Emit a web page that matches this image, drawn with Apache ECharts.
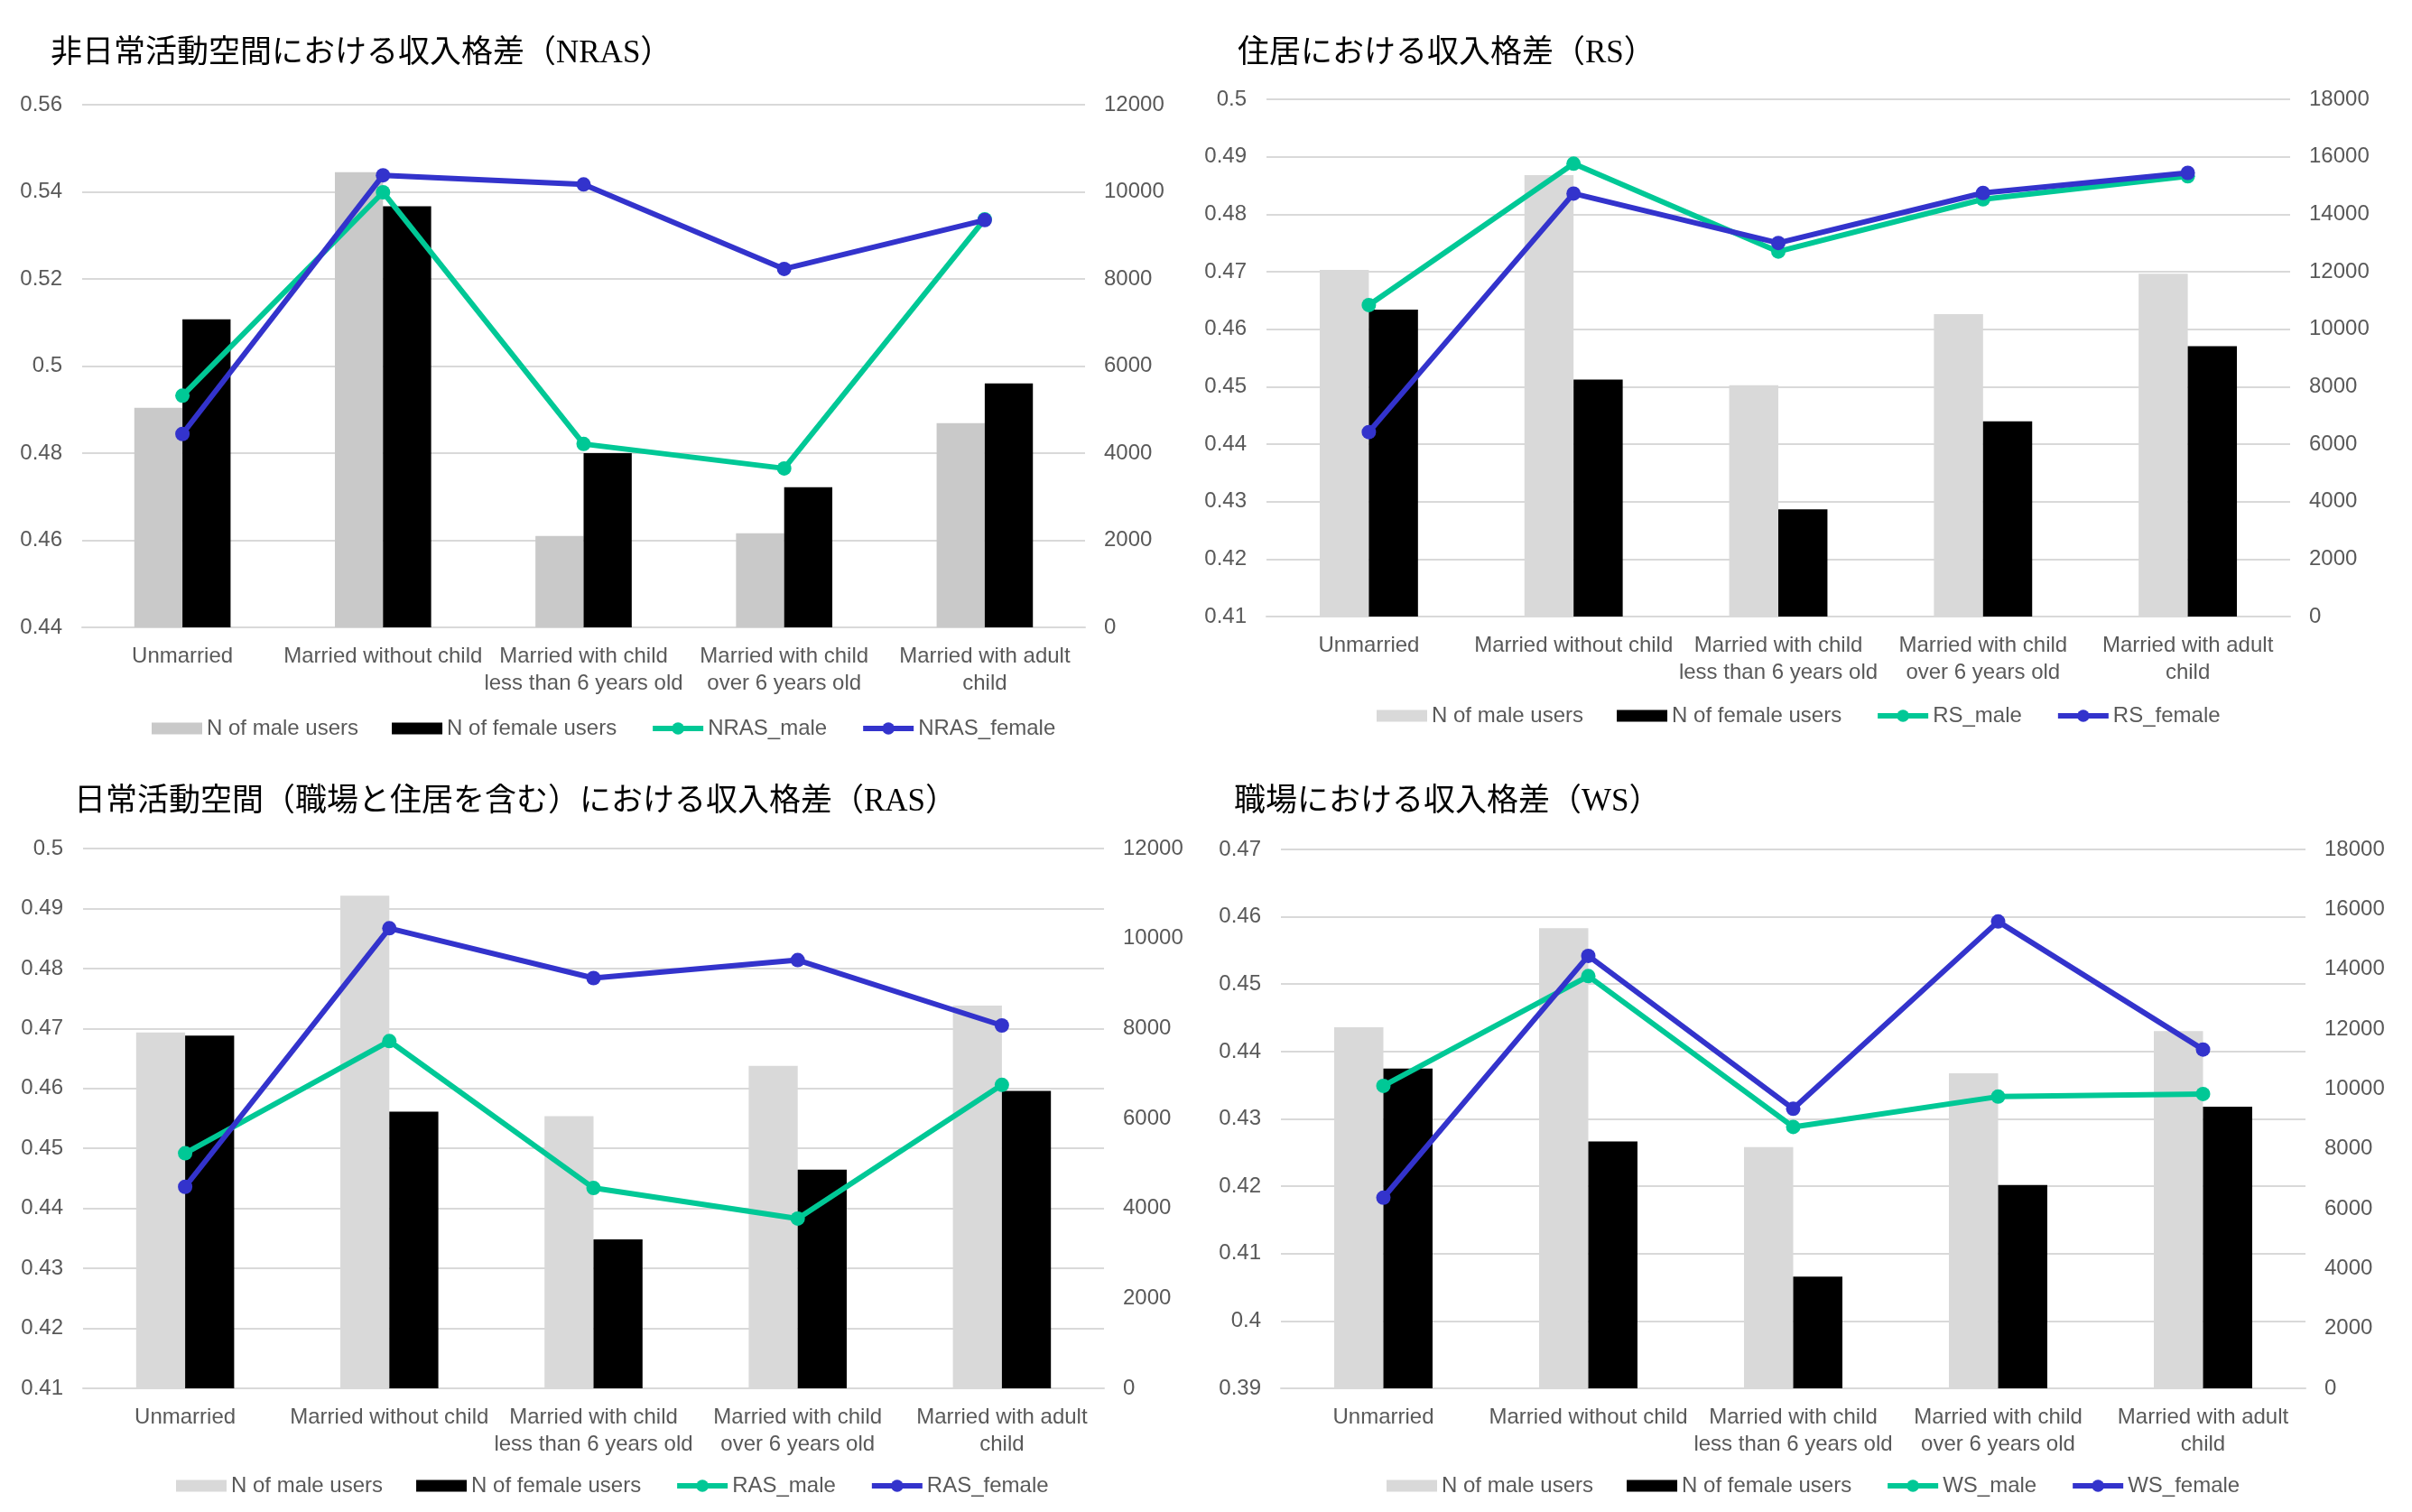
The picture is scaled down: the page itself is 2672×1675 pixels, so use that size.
<!DOCTYPE html>
<html>
<head>
<meta charset="utf-8">
<script src="https://cdn.jsdelivr.net/npm/echarts@6/dist/echarts.min.js"></script>
<style>
html,body{margin:0;padding:0;background:#ffffff;}
#c{width:2672px;height:1675px;}
</style>
</head>
<body>
<div id="c"></div>
<script>
// ---------- data ----------
const categories = [
  'Unmarried',
  'Married without child',
  'Married with child\nless than 6 years old',
  'Married with child\nover 6 years old',
  'Married with adult\nchild'
];
const legendBarNames = ['N of male users', 'N of female users'];

// NRAS panel
const nrasTitle = '非日常活動空間における収入格差（NRAS）';
const nrasMaleUsers   = [5040, 10450, 2100, 2160, 4690];
const nrasFemaleUsers = [7070, 9670, 4000, 3220, 5600];
const nrasMale        = [0.4932, 0.5399, 0.4821, 0.4765, 0.5337];
const nrasFemale      = [0.4844, 0.5438, 0.5417, 0.5223, 0.5335];
const nrasLeftTicks   = [0.44, 0.56, 0.02];
const nrasRightTicks  = [0, 12000, 2000];

// RS panel
const rsTitle = '住居における収入格差（RS）';
const rsMaleUsers   = [12060, 15360, 8050, 10520, 11930];
const rsFemaleUsers = [10680, 8250, 3730, 6790, 9410];
const rsMale        = [0.4642, 0.4888, 0.4735, 0.4826, 0.4866];
const rsFemale      = [0.4421, 0.4836, 0.4750, 0.4837, 0.4872];
const rsLeftTicks   = [0.41, 0.50, 0.01];
const rsRightTicks  = [0, 18000, 2000];

// RAS panel
const rasTitle = '日常活動空間（職場と住居を含む）における収入格差（RAS）';
const rasMaleUsers   = [7910, 10950, 6050, 7170, 8510];
const rasFemaleUsers = [7840, 6150, 3310, 4860, 6610];
const rasMale        = [0.4492, 0.4679, 0.4434, 0.4383, 0.4606];
const rasFemale      = [0.4436, 0.4867, 0.4784, 0.4814, 0.4705];
const rasLeftTicks   = [0.41, 0.50, 0.01];
const rasRightTicks  = [0, 12000, 2000];

// WS panel
const wsTitle = '職場における収入格差（WS）';
const wsMaleUsers   = [12060, 15370, 8060, 10520, 11930];
const wsFemaleUsers = [10680, 8250, 3730, 6790, 9410];
const wsMale        = [0.4349, 0.4512, 0.4288, 0.4333, 0.4337];
const wsFemale      = [0.4183, 0.4542, 0.4315, 0.4593, 0.4403];
const wsLeftTicks   = [0.39, 0.47, 0.01];
const wsRightTicks  = [0, 18000, 2000];

// ---------- layout / style ----------
const SANS = "'Liberation Sans', Arial, sans-serif";
const TITLE_FONT = "'Liberation Serif', 'Noto Sans CJK JP', serif";
const LABEL = '#595959';
const GRIDC = '#d9d9d9';
const GREEN = '#00C896';
const BLUE = '#3333CC';
const BAR_ICON = 'path://M0,0H52V12H0Z';

const panels = [
  {title: nrasTitle, tl: 51, tt: 37, grid: {left: 91, top: 116, width: 1111, height: 579},
   lg: {left: 163, top: 790}, maleColor: '#C9C9C9',
   male: nrasMaleUsers, female: nrasFemaleUsers, lm: nrasMale, lf: nrasFemale,
   names: ['NRAS_male', 'NRAS_female'], lt: nrasLeftTicks, rt: nrasRightTicks},
  {title: rsTitle, tl: 1366, tt: 37, grid: {left: 1403, top: 110, width: 1134, height: 573},
   lg: {left: 1520, top: 776}, maleColor: '#D9D9D9',
   male: rsMaleUsers, female: rsFemaleUsers, lm: rsMale, lf: rsFemale,
   names: ['RS_male', 'RS_female'], lt: rsLeftTicks, rt: rsRightTicks},
  {title: rasTitle, tl: 77, tt: 866, grid: {left: 92, top: 940, width: 1131, height: 598},
   lg: {left: 190, top: 1629}, maleColor: '#D9D9D9',
   male: rasMaleUsers, female: rasFemaleUsers, lm: rasMale, lf: rasFemale,
   names: ['RAS_male', 'RAS_female'], lt: rasLeftTicks, rt: rasRightTicks},
  {title: wsTitle, tl: 1362, tt: 866, grid: {left: 1419, top: 941, width: 1135, height: 597},
   lg: {left: 1531, top: 1629}, maleColor: '#D9D9D9',
   male: wsMaleUsers, female: wsFemaleUsers, lm: wsMale, lf: wsFemale,
   names: ['WS_male', 'WS_female'], lt: wsLeftTicks, rt: wsRightTicks}
];

const option = {
  backgroundColor: '#ffffff',
  animation: false,
  title: [], grid: [], xAxis: [], yAxis: [], legend: [], series: []
};

panels.forEach((p, i) => {
  option.title.push({
    text: p.title, left: p.tl, top: p.tt,
    textStyle: {fontFamily: TITLE_FONT, fontSize: 35, fontWeight: 'normal', color: '#000000'}
  });
  option.grid.push(Object.assign({containLabel: false}, p.grid));
  option.xAxis.push({
    type: 'category', gridIndex: i, data: categories,
    axisLine: {show: true, lineStyle: {color: GRIDC, width: 2}},
    axisTick: {show: false},
    axisLabel: {interval: 0, color: LABEL, fontSize: 24, lineHeight: 30, margin: 17, fontFamily: SANS}
  });
  option.yAxis.push({
    type: 'value', gridIndex: i, position: 'left',
    min: p.lt[0], max: p.lt[1], interval: p.lt[2],
    axisLine: {show: false}, axisTick: {show: false},
    axisLabel: {color: LABEL, fontSize: 24, margin: 22, fontFamily: SANS},
    splitLine: {show: true, lineStyle: {color: GRIDC, width: 2}}
  });
  option.yAxis.push({
    type: 'value', gridIndex: i, position: 'right',
    min: p.rt[0], max: p.rt[1], interval: p.rt[2],
    axisLine: {show: false}, axisTick: {show: false},
    axisLabel: {color: LABEL, fontSize: 24, margin: 21, fontFamily: SANS, formatter: v => String(v)},
    splitLine: {show: false}
  });
  option.legend.push({
    left: p.lg.left, top: p.lg.top, orient: 'horizontal',
    itemWidth: 56, itemHeight: 17, itemGap: 37, symbolKeepAspect: true,
    textStyle: {color: LABEL, fontSize: 24, fontFamily: SANS},
    lineStyle: {width: 6},
    data: [
      {name: legendBarNames[0], icon: BAR_ICON, itemStyle: {color: p.maleColor}},
      {name: legendBarNames[1], icon: BAR_ICON, itemStyle: {color: '#000000'}},
      {name: p.names[0], lineStyle: {width: 6, color: GREEN}, itemStyle: {color: GREEN}},
      {name: p.names[1], lineStyle: {width: 6, color: BLUE}, itemStyle: {color: BLUE}}
    ]
  });
  option.series.push({
    name: legendBarNames[0], type: 'bar', xAxisIndex: i, yAxisIndex: 2 * i + 1,
    data: p.male, barWidth: '24%', barGap: '0%', itemStyle: {color: p.maleColor}, z: 2
  });
  option.series.push({
    name: legendBarNames[1], type: 'bar', xAxisIndex: i, yAxisIndex: 2 * i + 1,
    data: p.female, barWidth: '24%', barGap: '0%', itemStyle: {color: '#000000'}, z: 2
  });
  option.series.push({
    name: p.names[0], type: 'line', xAxisIndex: i, yAxisIndex: 2 * i,
    data: p.lm, symbol: 'circle', symbolSize: 16,
    lineStyle: {color: GREEN, width: 6}, itemStyle: {color: GREEN}, z: 4
  });
  option.series.push({
    name: p.names[1], type: 'line', xAxisIndex: i, yAxisIndex: 2 * i,
    data: p.lf, symbol: 'circle', symbolSize: 16,
    lineStyle: {color: BLUE, width: 6}, itemStyle: {color: BLUE}, z: 5
  });
});

const chart = echarts.init(document.getElementById('c'), null, {renderer: 'canvas'});
chart.setOption(option);
</script>
</body>
</html>
